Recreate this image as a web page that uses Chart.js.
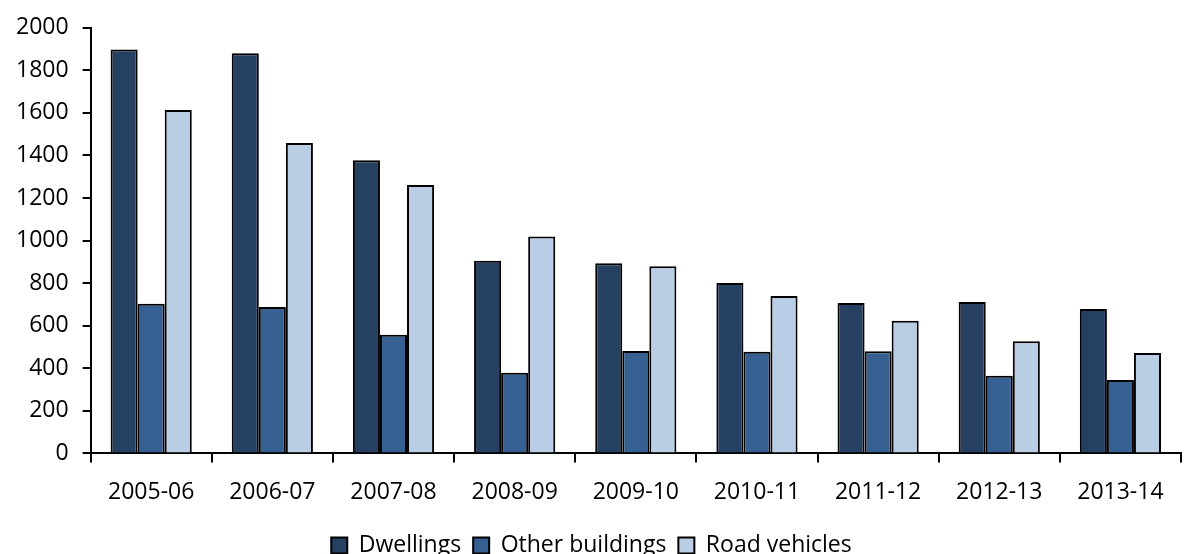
<!DOCTYPE html>
<html lang="en">
<head>
<meta charset="utf-8" />
<title>Chart</title>
<style>
  html, body { margin: 0; padding: 0; background: #fff; }
  #wrap { width: 1189px; height: 554px; }
</style>
</head>
<body>
<div id="wrap"><canvas id="myChart" width="1189" height="554"></canvas></div>
<script src="https://cdn.jsdelivr.net/npm/chart.js@4.4.1/dist/chart.umd.min.js"></script>
<script>
  var years = ["2005-06", "2006-07", "2007-08", "2008-09", "2009-10", "2010-11", "2011-12", "2012-13", "2013-14"];
  var dwellings = [1898, 1880, 1377, 905, 894, 801, 707, 712, 678];
  var otherBuildings = [703, 688, 557, 379, 481, 478, 480, 365, 345];
  var roadVehicles = [1614, 1459, 1261, 1019, 880, 740, 623, 527, 472];
  var yTicks = [0, 200, 400, 600, 800, 1000, 1200, 1400, 1600, 1800, 2000];

  var font = { family: "'Open Sans', 'Liberation Sans', sans-serif", size: 23 };

  function series(label, values, colour) {
    return {
      label: label,
      data: values,
      backgroundColor: colour,
      borderColor: "#000000",
      borderWidth: 2,
      categoryPercentage: 0.67,
      barPercentage: 1.0
    };
  }

  var ctx = document.getElementById("myChart").getContext("2d");
  var myChart = new Chart(ctx, {
    type: "bar",
    data: {
      labels: years,
      datasets: [
        series("Dwellings", dwellings, "#264061"),
        series("Other buildings", otherBuildings, "#366092"),
        series("Road vehicles", roadVehicles, "#B9CDE5")
      ]
    },
    options: {
      responsive: false,
      animation: false,
      layout: { padding: { top: 22, right: 8, left: 2, bottom: -13 } },
      plugins: {
        tooltip: { enabled: false },
        legend: {
          position: "bottom",
          labels: {
            color: "#000",
            font: font,
            boxWidth: 16,
            boxHeight: 16,
            padding: 12
          }
        }
      },
      scales: {
        x: {
          grid: {
            display: true,
            drawOnChartArea: false,
            drawTicks: true,
            tickLength: 9,
            color: "#000",
            lineWidth: 2
          },
          border: { display: true, color: "#000", width: 2 },
          ticks: { color: "#000", font: font, padding: 16 }
        },
        y: {
          min: 0,
          max: 2000,
          afterBuildTicks: function (axis) {
            axis.ticks = yTicks.map(function (v) { return { value: v }; });
          },
          grid: {
            display: true,
            drawOnChartArea: false,
            drawTicks: true,
            tickLength: 8,
            color: "#000",
            lineWidth: 2
          },
          border: { display: true, color: "#000", width: 2 },
          ticks: {
            color: "#000",
            font: font,
            padding: 14,
            callback: function (value) { return String(value); }
          }
        }
      }
    }
  });
</script>
</body>
</html>
